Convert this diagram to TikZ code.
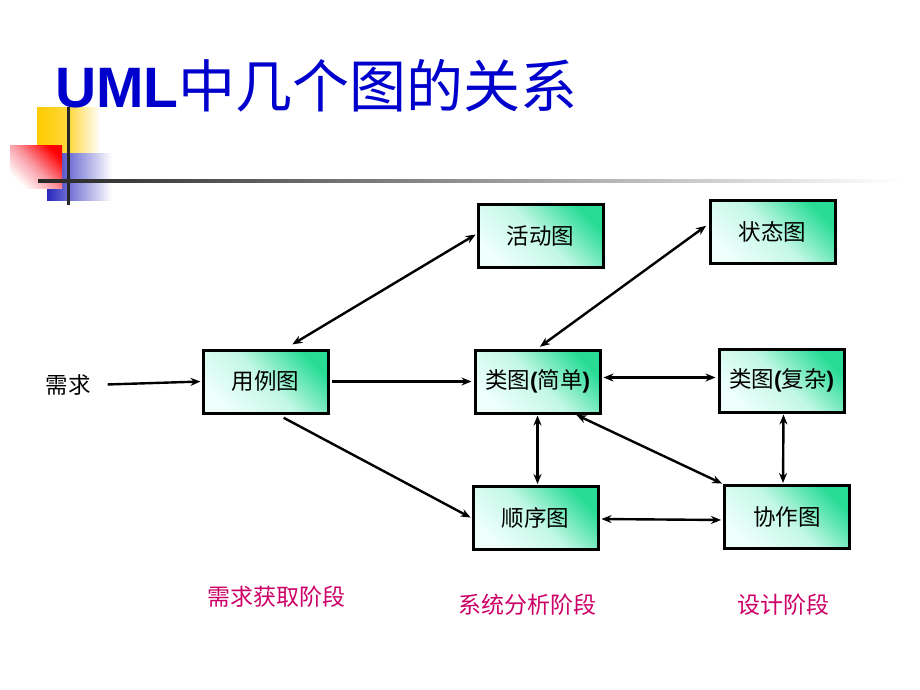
\documentclass[tikz,border=0pt]{standalone}
\usepackage{fontspec}
\setmainfont{Liberation Sans}
\newfontfamily\cjk{Noto Sans CJK SC}
\newfontfamily\lsb{Liberation Sans Bold}
\usetikzlibrary{arrows.meta}
\definecolor{titleblue}{RGB}{0,0,204}
\definecolor{phase}{RGB}{204,0,102}
\definecolor{boxgreen}{RGB}{40,220,150}
\definecolor{boxlight}{RGB}{238,255,252}
\tikzset{
  box/.style={draw=black, line width=3pt, minimum width=125pt, minimum height=63pt,
    inner sep=0pt, shading=axis, top color=boxgreen, bottom color=boxlight,
    middle color=boxgreen!22!boxlight, shading angle=-45,
    font=\cjk\fontsize{22.5}{26}\selectfont},
  conn/.style={line width=2.4pt, -{Stealth[length=10pt,width=8pt]}},
  dconn/.style={line width=2.4pt, {Stealth[length=10pt,width=8pt]}-{Stealth[length=10pt,width=8pt]}},
  phaselabel/.style={text=phase, font=\cjk\fontsize{23}{26}\selectfont},
}
\begin{document}
\begin{tikzpicture}[x=1pt, y=-1pt]
\useasboundingbox (0,0) rectangle (920,690);
% decoration
\shade[left color={rgb,255:red,255;green,204;blue,0}, right color=white, middle color={rgb,255:red,255;green,215;blue,60}] (37,108) rectangle (100,175);
\shade[left color={rgb,255:red,40;green,40;blue,190}, right color=white] (47,153) rectangle (112,200);
\shade[shading=axis, top color={rgb,255:red,255;green,0;blue,0}, bottom color=white, middle color={rgb,255:red,250;green,150;blue,160}, shading angle=-45] (10,145) rectangle (62,188);
\draw[line width=3pt, black!85] (68,107) -- (68,205);
\shade[left color=black!85, right color=white] (38,179.5) rectangle (900,182.5);
% title
\node[anchor=base west, inner sep=0pt, text=titleblue] (title) at (55,107)
  {\lsb\fontsize{57}{62}\selectfont UML\cjk 中几个图的关系};
% boxes
\node[box] (act) at (540.5,236) {活动图};
\node[box] (state) at (772.5,232) {状态图};
\node[box] (use) at (265.5,381.5) {用例图};
\node[box] (cls1) at (537.5,381.5) {类图{\lsb(}简单{\lsb)}};
\node[box] (cls2) at (781.5,380.5) {类图{\lsb(}复杂{\lsb)}};
\node[box] (seq) at (535.5,518) {顺序图};
\node[box] (col) at (787,517) {协作图};
\node[font=\cjk\fontsize{22.5}{26}\selectfont, inner sep=0pt] (req) at (68,385) {需求};
% connectors
\draw[conn, shorten <=17pt, shorten >=1pt] (req.east) -- (use.west);
\draw[conn, shorten <=2pt, shorten >=2pt] (use.east) -- (cls1.west);
\draw[dconn, shorten <=8pt, shorten >=1pt] ([xshift=20pt]use.north) -- ([yshift=2pt]act.west);
\draw[dconn, shorten <=3pt, shorten >=3pt] (cls1.north) -- ([yshift=8pt]state.west);
\draw[conn, shorten <=7pt, shorten >=1pt] ([xshift=12pt]use.south) -- (seq.west);
\draw[dconn, shorten <=2pt, shorten >=2pt] ([yshift=4pt]cls1.east) -- ([yshift=3pt]cls2.west);
\draw[dconn, shorten <=1pt, shorten >=1pt] (cls1.south) -- ([xshift=2pt]seq.north);
\draw[dconn, shorten <=1pt, shorten >=1pt] ([xshift=38pt]cls1.south) -- (col.north west);
\draw[dconn, shorten <=1pt, shorten >=1pt] ([xshift=2pt]cls2.south) -- ([xshift=-4pt]col.north);
\draw[dconn, shorten <=2pt, shorten >=2pt] ([yshift=-1pt]seq.east) -- ([yshift=-3pt]col.west);
% phase labels
\node[phaselabel] (p1) at (276,597) {需求获取阶段};
\node[phaselabel] (p2) at (527,605) {系统分析阶段};
\node[phaselabel] (p3) at (783,605) {设计阶段};
\end{tikzpicture}
\end{document}
